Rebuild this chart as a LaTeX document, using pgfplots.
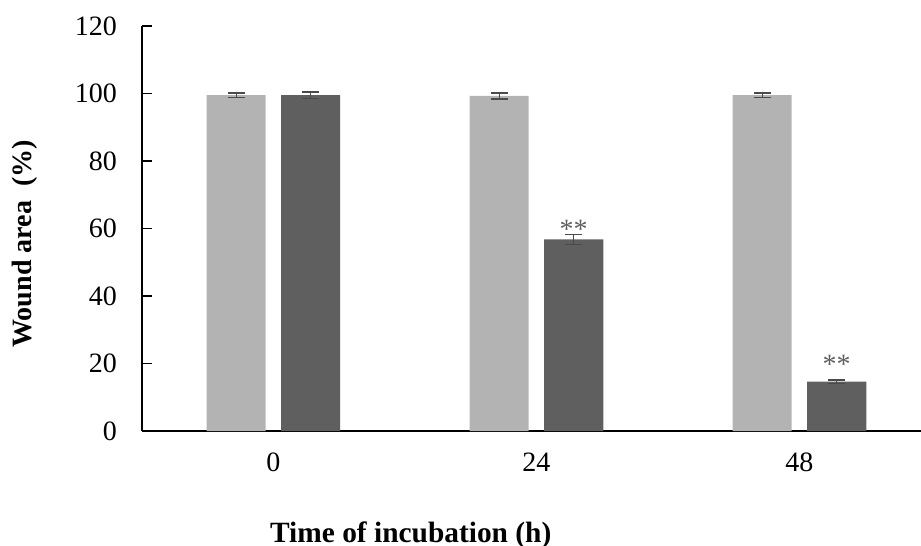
\documentclass[border=0pt]{standalone}
\usepackage{pgfplots}
\pgfplotsset{compat=1.18}
\usepackage{fontspec}
\setmainfont{Liberation Serif}
\definecolor{lightbar}{HTML}{B3B3B3}
\definecolor{darkbar}{HTML}{5F5F5F}
\definecolor{errcol}{HTML}{4A4A4A}
\begin{document}
\begin{tikzpicture}
\begin{axis}[
  scale only axis,
  width=389.5pt, height=202.5pt,
  ybar=7.75pt, bar width=29.5pt,
  xmin=-0.5, xmax=2.462,
  ymin=0, ymax=120,
  ytick={0,20,...,120},
  xtick={0,1,2}, xticklabels={0,24,48},
  extra x ticks={0.5,1.5},
  extra x tick labels={},
  extra x tick style={major tick length=4pt, tick style={black, line width=0.6pt}},
  major x tick style={draw=none},
  axis x line=bottom, axis y line=left,
  axis line style={-, line width=0.6pt},
  tick align=inside,
  major tick length=5pt,
  y tick style={black, line width=0.6pt},
  tick label style={font=\fontsize{14}{16}\selectfont},
  /pgf/number format/assume math mode=true,
  yticklabel style={xshift=-9pt},
  xticklabel style={yshift=-7.3pt},
  ylabel={\textbf{Wound area\ \ (\%)}},
  ylabel style={font=\fontsize{14}{16}\selectfont, at={(rel axis cs:0,0.462)}, anchor=center, yshift=58.5pt},
  xlabel={\textbf{Time of incubation (h)}},
  xlabel style={font=\fontsize{14.7}{16}\selectfont, at={(rel axis cs:0.345,0)}, anchor=base, yshift=-55.5pt},
  error bars/error bar style={errcol, line width=0.7pt},
  error bars/error mark options={errcol, rotate=90, mark size=4.25pt, line width=0.7pt},
  clip=false,
]
\addplot[fill=lightbar, draw=none,
  error bars/.cd, y dir=both, y explicit]
  coordinates {(0,99.5) +- (0,0.7) (1,99.3) +- (0,0.9) (2,99.5) +- (0,0.6)};
\addplot[fill=darkbar, draw=none,
  error bars/.cd, y dir=both, y explicit]
  coordinates {(0,99.5) +- (0,1.0) (1,56.8) +- (0,1.5) (2,14.6) +- (0,0.5)};
\node[anchor=base, text=darkbar, font=\fontsize{14}{16}\selectfont, xshift=18.6pt] at (axis cs:1,56.9) {**};
\node[anchor=base, text=darkbar, font=\fontsize{14}{16}\selectfont, xshift=18.6pt] at (axis cs:2,17.1) {**};
\end{axis}
\pgfresetboundingbox
\path[use as bounding box] ([xshift=-71pt,yshift=-57.5pt]current axis.south west) rectangle ([yshift=13pt]current axis.north east);
\end{tikzpicture}
\end{document}
